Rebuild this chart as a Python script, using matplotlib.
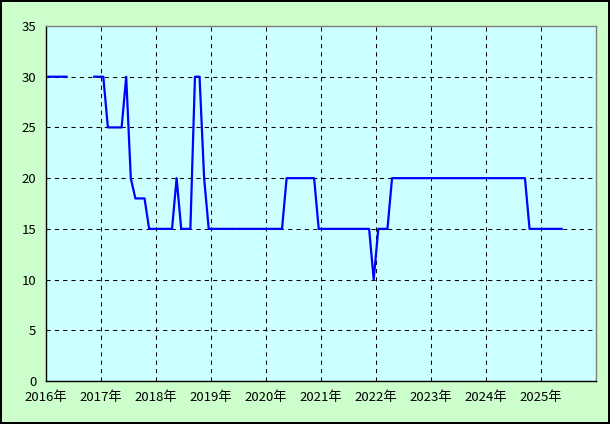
import matplotlib
matplotlib.use('Agg')
import matplotlib.pyplot as plt
import numpy as np

plt.rcParams['font.family'] = ['Noto Sans CJK JP', 'DejaVu Sans']

nan = np.nan
# monthly values, one row per year (Jan..Dec), gaps as nan
v2016 = [30, 30, 30, 30, 30, nan, nan, nan, nan, nan, 30, 30]
v2017 = [30, 25, 25, 25, 25, 30, 20, 18, 18, 18, 15, 15]
v2018 = [15, 15, 15, 15, 20, 15, 15, 15, 30, 30, 20, 15]
v2019 = [15, 15, 15, 15, 15, 15, 15, 15, 15, 15, 15, 15]
v2020 = [15, 15, 15, 15, 20, 20, 20, 20, 20, 20, 20, 15]
v2021 = [15, 15, 15, 15, 15, 15, 15, 15, 15, 15, 15, 10]
v2022 = [15, 15, 15, 20, 20, 20, 20, 20, 20, 20, 20, 20]
v2023 = [20, 20, 20, 20, 20, 20, 20, 20, 20, 20, 20, 20]
v2024 = [20, 20, 20, 20, 20, 20, 20, 20, 20, 15, 15, 15]
v2025 = [15, 15, 15, 15, 15]

values = np.array(v2016 + v2017 + v2018 + v2019 + v2020 + v2021 + v2022 + v2023 + v2024 + v2025)
start_year = 2016
years = list(range(2016, 2027))
year_labels = [f'{y}年' for y in years[:-1]] + ['']

# mid-month positions
x = start_year + (np.arange(len(values)) + 0.5) / 12

fig = plt.figure(figsize=(6.1, 4.24), dpi=100)
fig.patch.set_facecolor('#CCFFCC')
fig.patch.set_edgecolor('black')
fig.patch.set_linewidth(1.5)
ax = fig.add_axes([46/610, 43/424, 550/610, 355/424])
ax.set_facecolor('#CCFFFF')

ax.plot(x, values, color='#0000FF', lw=1.6, zorder=3)

ax.set_xlim(2016, 2026)
ax.set_ylim(0, 35)
ax.set_xticks(years)
ax.set_xticklabels(year_labels)
ax.set_yticks(range(0, 36, 5))
ax.tick_params(length=0, labelsize=9.5, colors='black')
ax.tick_params(axis='y', pad=7)
ax.tick_params(axis='x', pad=7)
ax.grid(True, color='black', linestyle=(0, (4, 4)), lw=0.75)
ax.set_axisbelow(True)

for s in ['left', 'bottom']:
    ax.spines[s].set_color('black')
    ax.spines[s].set_linewidth(1)
for s in ['top', 'right']:
    ax.spines[s].set_color('#808080')
    ax.spines[s].set_linewidth(1)

plt.savefig('out.png', dpi=100, facecolor=fig.get_facecolor(), edgecolor='black')
